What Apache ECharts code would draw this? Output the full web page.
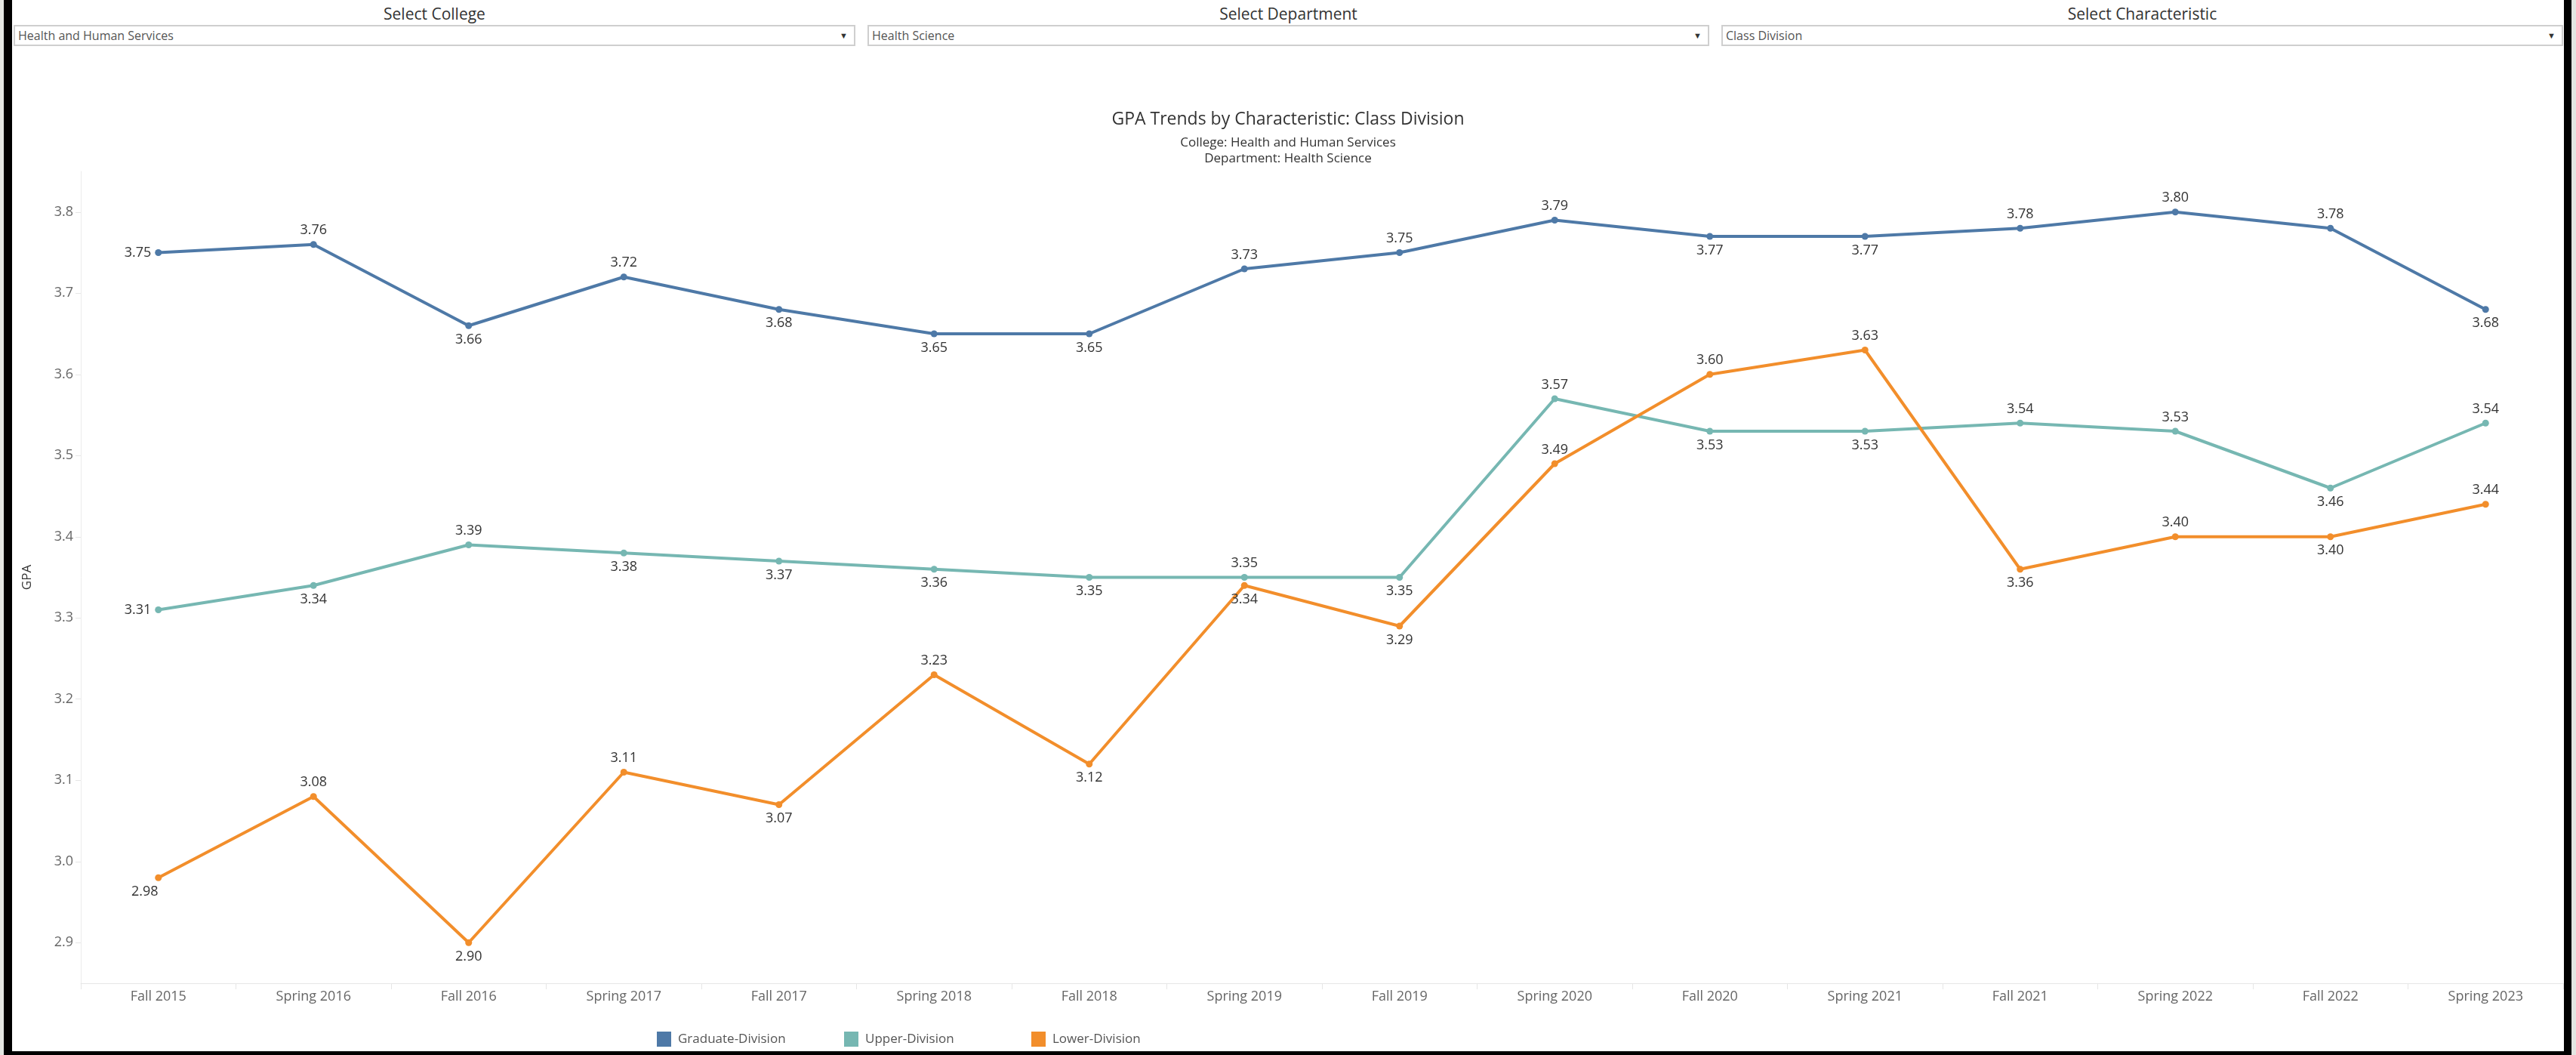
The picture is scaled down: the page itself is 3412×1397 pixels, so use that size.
<!DOCTYPE html>
<html>
<head>
<meta charset="utf-8">
<script src="https://cdn.jsdelivr.net/npm/echarts@6.0.0/dist/echarts.min.js"></script>
<style>
  html, body { margin:0; padding:0; width:3412px; height:1397px; overflow:hidden; background:#e4e6e2; font-family:'Open Sans', sans-serif; }
  #frame { position:absolute; left:5px; top:-20px; width:3401px; height:1417px; box-sizing:border-box;
           border-left:11px solid #000; border-right:10px solid #000; border-bottom:5px solid #000; background:#fff; }
  .flabel { position:absolute; top:5px; height:26px; line-height:26px; text-align:center; font-size:21px; font-weight:500; color:#333; }
  .fbox { position:absolute; top:33px; height:28px; box-sizing:border-box; border:2px solid #cfcfcf; background:#fff;
          font-size:16px; color:#555; line-height:24px; padding-left:4px; }
  .fbox .arr { position:absolute; right:8px; top:0; font-size:11px; color:#333; }
  #chart { position:absolute; left:0; top:0; width:3412px; height:1397px; }
</style>
</head>
<body>
<div id="frame"></div>
<div id="filters"></div>
<div id="chart"></div>
<script>
// ---- data ----
const filterLabels = ['Select College', 'Select Department', 'Select Characteristic'];
const filterValues = ['Health and Human Services', 'Health Science', 'Class Division'];

const terms = ['Fall 2015','Spring 2016','Fall 2016','Spring 2017','Fall 2017','Spring 2018','Fall 2018','Spring 2019',
               'Fall 2019','Spring 2020','Fall 2020','Spring 2021','Fall 2021','Spring 2022','Fall 2022','Spring 2023'];
const seriesNames = ['Graduate-Division', 'Upper-Division', 'Lower-Division'];
const graduate = [3.75,3.76,3.66,3.72,3.68,3.65,3.65,3.73,3.75,3.79,3.77,3.77,3.78,3.80,3.78,3.68];
const upper    = [3.31,3.34,3.39,3.38,3.37,3.36,3.35,3.35,3.35,3.57,3.53,3.53,3.54,3.53,3.46,3.54];
const lower    = [2.98,3.08,2.90,3.11,3.07,3.23,3.12,3.34,3.29,3.49,3.60,3.63,3.36,3.40,3.40,3.44];
const yTicks   = [2.9,3.0,3.1,3.2,3.3,3.4,3.5,3.6,3.7,3.8];

// label placement (style, kept separate from values)
const gradPos  = ['left','top','bottom','top','bottom','bottom','bottom','top','top','top','bottom','bottom','top','top','top','bottom'];
const upperPos = ['left','bottom','top','bottom','bottom','bottom','bottom','top','bottom','top','bottom','bottom','top','top','bottom','top'];
const lowerPos = ['bottom','top','bottom','top','bottom','top','bottom','bottom','bottom','top','top','top','bottom','top','bottom','top'];
const colors = ['#4e79a7', '#76b7b2', '#f28e2b'];
const legendLefts = [870, 1118, 1366];

// ---- filter widgets ----
const FONT = "'Open Sans', sans-serif";
const filtersEl = document.getElementById('filters');
const boxW = 1115, gap = 16, x0 = 18;
filterLabels.forEach((lab, i) => {
  const left = x0 + i * (boxW + gap);
  const l = document.createElement('div');
  l.className = 'flabel'; l.style.left = left + 'px'; l.style.width = boxW + 'px'; l.textContent = lab;
  const b = document.createElement('div');
  b.className = 'fbox'; b.style.left = left + 'px'; b.style.width = boxW + 'px';
  b.textContent = filterValues[i];
  const a = document.createElement('span'); a.className = 'arr'; a.textContent = '\u25BC';
  b.appendChild(a);
  filtersEl.appendChild(l); filtersEl.appendChild(b);
});

// ---- chart ----
const chart = echarts.init(document.getElementById('chart'));
function mk(values, pos) {
  return values.map((v, i) => {
    const d = { value: v, label: { position: pos[i] } };
    if (i === 0 && pos[i] === 'bottom') d.label.offset = [-18, 0];
    return d;
  });
}
const seriesData = [mk(graduate, gradPos), mk(upper, upperPos), mk(lower, lowerPos)];

chart.setOption({
  animation: false,
  color: colors,
  textStyle: { fontFamily: FONT },
  title: [
    { text: 'GPA Trends by Characteristic: Class Division', left: 'center', top: 142,
      textStyle: { fontSize: 23, fontWeight: 'normal', color: '#333', fontFamily: FONT } },
    { text: 'College: Health and Human Services', left: 'center', top: 176,
      textStyle: { fontSize: 17, fontWeight: 'normal', color: '#333', fontFamily: FONT } },
    { text: 'Department: Health Science', left: 'center', top: 197,
      textStyle: { fontSize: 17, fontWeight: 'normal', color: '#333', fontFamily: FONT } }
  ],
  legend: seriesNames.map((n, k) => ({
    left: legendLefts[k], top: 1366, itemWidth: 19, itemHeight: 20, icon: 'rect',
    padding: 0, itemGap: 0,
    data: [n],
    textStyle: { fontSize: 17, color: '#555', fontFamily: FONT, padding: [0, 0, 0, 4] }
  })),
  grid: { left: 107, right: 17, top: 227, bottom: 95, containLabel: false },
  xAxis: {
    type: 'category', data: terms, boundaryGap: true,
    axisLine: { show: true, lineStyle: { color: '#e6e6e6', width: 1 } },
    axisTick: { show: true, alignWithLabel: false, interval: 0, length: 8, lineStyle: { color: '#e6e6e6' } },
    axisLabel: { interval: 0, margin: 9, fontSize: 18, color: '#666', fontFamily: FONT },
    splitLine: { show: false }
  },
  yAxis: {
    type: 'value', min: 2.85, max: 3.85,
    name: 'GPA', nameLocation: 'middle', nameGap: 62, nameRotate: 90,
    nameTextStyle: { fontSize: 17, color: '#333', fontFamily: FONT },
    axisLine: { show: true, lineStyle: { color: '#ececec', width: 1 } },
    axisTick: { show: true, length: 7, customValues: yTicks, lineStyle: { color: '#e6e6e6' } },
    axisLabel: { customValues: yTicks, margin: 10, fontSize: 18, color: '#666', fontFamily: FONT,
                 formatter: v => Number(v).toFixed(1) },
    splitLine: { show: false }
  },
  series: seriesNames.map((n, k) => ({
    name: n, type: 'line', data: seriesData[k],
    symbol: 'circle', symbolSize: 9,
    lineStyle: { width: 4, color: colors[k] },
    itemStyle: { color: colors[k] },
    label: { show: true, fontSize: 18, color: '#333', fontFamily: FONT, distance: 5,
             formatter: p => Number(p.value).toFixed(2) },
    emphasis: { disabled: true }
  }))
});
</script>
</body>
</html>
